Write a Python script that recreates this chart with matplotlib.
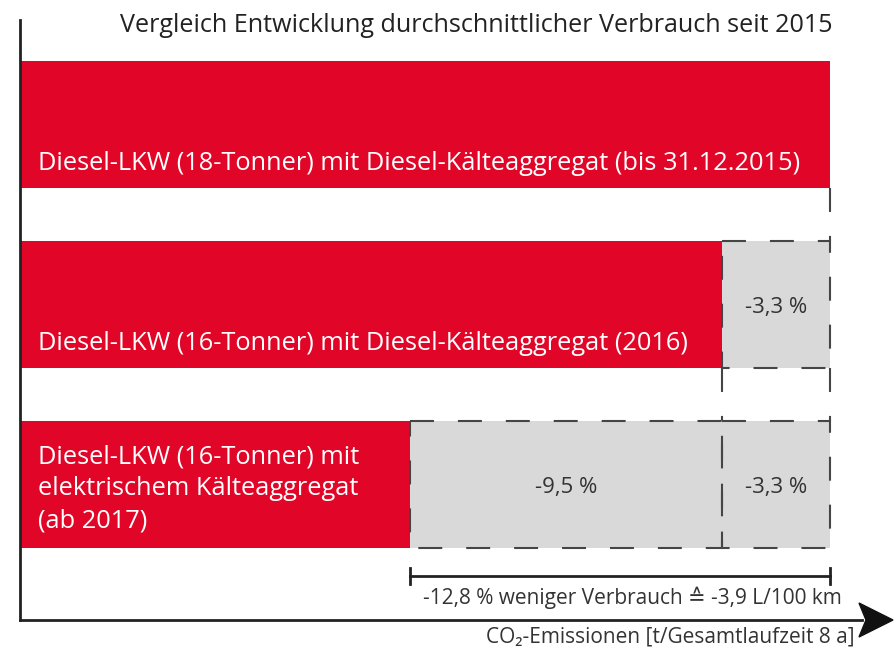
import matplotlib
matplotlib.use("Agg")
import matplotlib.pyplot as plt
from matplotlib.patches import Rectangle, Polygon

# ---------------- data ----------------
title = "Vergleich Entwicklung durchschnittlicher Verbrauch seit 2015"
categories = [
    "Diesel-LKW (18-Tonner) mit Diesel-Kälteaggregat (bis 31.12.2015)",
    "Diesel-LKW (16-Tonner) mit Diesel-Kälteaggregat (2016)",
    "Diesel-LKW (16-Tonner) mit\nelektrischem Kälteaggregat\n(ab 2017)",
]
# red bar lengths (illustrative chart units, baseline = 100)
bar_values = [100, 86.7, 48.15]
# grey "savings" segments: (bar index, start, end, label)
seg_bar = [1, 2, 2]
seg_start = [86.7, 48.15, 86.7]
seg_end = [100, 86.7, 100]
seg_labels = ["-3,3 %", "-9,5 %", "-3,3 %"]
total_label = "-12,8 % weniger Verbrauch \u2259 -3,9 L/100 km"
x_label = "CO\u2082-Emissionen [t/Gesamtlaufzeit 8 a]"

RED = "#e10628"
GREY = "#d9d9d9"
DASH = "#454545"
TXT = "#333333"

plt.rcParams['font.family'] = ['Open Sans', 'DejaVu Sans']

fig = plt.figure(figsize=(8.94, 6.5), dpi=100)
W, H = 894, 650
ax = fig.add_axes([20 / W, 30 / H, (893 - 20) / W, 600 / H])
px = 8.1  # pixels per unit
ax.set_xlim(0, (893 - 20) / px)
ax.set_ylim(2.7528, -0.5806)
ax.axis('off')

bh = 127 / 180.0
dlw = 1.5
dash = (0, (11.5, 11.5))

for i, (cat, v) in enumerate(zip(categories, bar_values)):
    ax.barh(i, v, height=bh, color=RED, left=0, zorder=2)
    if "\n" in cat:
        ax.text(18 / px, i + 0.025, cat, color="white", fontsize=18.3,
                va="center", ha="left", linespacing=1.36, zorder=5)
    else:
        ax.text(18 / px, i + 0.215, cat, color="white", fontsize=18.3,
                va="center", ha="left", zorder=5)

for b, s, e, lab in zip(seg_bar, seg_start, seg_end, seg_labels):
    ax.add_patch(Rectangle((s, b - bh / 2), e - s, bh, facecolor=GREY,
                           edgecolor="none", zorder=2))
    ax.add_patch(Rectangle((s, b - bh / 2), e - s, bh, facecolor="none",
                           edgecolor=DASH, lw=dlw, linestyle=dash, zorder=3))
    ax.text((s + e) / 2, b + 0.015, lab, color=TXT, fontsize=16,
            ha="center", va="center", zorder=5)

# dashed connectors between bars
ax.plot([100, 100], [0 + bh / 2, 1 - bh / 2], color=DASH, lw=dlw,
        linestyle=dash, zorder=3)
ax.plot([86.7, 86.7], [1 + bh / 2, 2 - bh / 2], color=DASH, lw=dlw,
        linestyle=dash, zorder=3)
ax.plot([100, 100], [1 + bh / 2, 2 - bh / 2], color=DASH, lw=dlw,
        linestyle=dash, zorder=3)

# bracket for total savings
yb = 2 + (576 - 484.5) / 180
tk = 8 / 180
ax.plot([bar_values[2], 100], [yb, yb], color="#222222", lw=2, zorder=3)
for xx in (bar_values[2], 100):
    ax.plot([xx, xx], [yb - tk, yb + tk], color="#222222", lw=2, zorder=3)
ax.text((bar_values[2] + 100) / 2 + 1.5, yb + 22 / 180, total_label,
        color=TXT, fontsize=15, ha="center", va="center")

# axes lines
ax.plot([0, 0], [-0.5806, 2.7528], color="#222222", lw=2, clip_on=False,
        zorder=4)
ax.plot([0, (862 - 20) / px], [2.7528, 2.7528], color="#222222", lw=2,
        clip_on=False, zorder=4)
tip = (893 - 20) / px
ax.add_patch(Polygon([[tip, 2.7528],
                      [(859 - 20) / px, 2.7528 - 17 / 180],
                      [(866 - 20) / px, 2.7528],
                      [(859 - 20) / px, 2.7528 + 17 / 180]],
                     closed=True, color="#111111", clip_on=False, zorder=5))

fig.text(855 / W, 1 - 637 / H, x_label, color=TXT, fontsize=15,
         ha="right", va="center")

# title fitted to the reference width
t = fig.text(833 / W, 1 - 26 / H, title, color="#222222", fontsize=19,
             ha="right", va="center")
fig.canvas.draw()
bb = t.get_window_extent()
target = 833 - 118
t.set_fontsize(19 * target / bb.width)

fig.savefig("out.png", dpi=100)
